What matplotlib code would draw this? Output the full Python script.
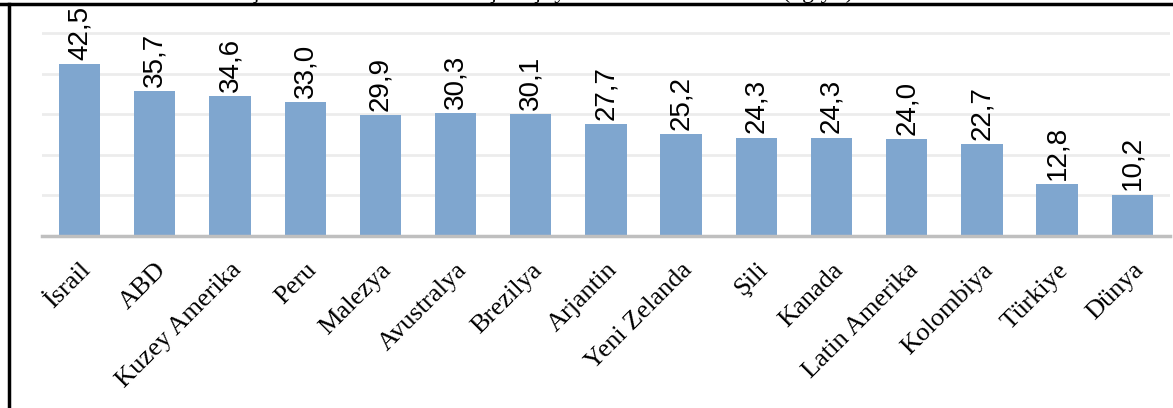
import matplotlib.pyplot as plt
from matplotlib.lines import Line2D

# veriler
ulkeler = ['İsrail', 'ABD', 'Kuzey Amerika', 'Peru', 'Malezya', 'Avustralya', 'Brezilya',
           'Arjantin', 'Yeni Zelanda', 'Şili', 'Kanada', 'Latin Amerika', 'Kolombiya',
           'Türkiye', 'Dünya']
degerler = [42.5, 35.7, 34.6, 33.0, 29.9, 30.3, 30.1, 27.7, 25.2, 24.3, 24.3, 24.0, 22.7, 12.8, 10.2]
etiketler = ['42,5', '35,7', '34,6', '33,0', '29,9', '30,3', '30,1', '27,7', '25,2', '24,3',
             '24,3', '24,0', '22,7', '12,8', '10,2']
baslik = 'Şekil 1. Bazı ülkelerde kişi başı yıllık tavuk eti tüketimi (kg/yıl)'

fig = plt.figure(figsize=(11.73, 4.08), dpi=100)
ax = fig.add_axes([0.0358, 0.4216, 0.9616, 0.566])

x = range(len(ulkeler))
ax.bar(x, degerler, width=0.55, color='#7fa6cf', zorder=2)

# bar ustu degerler (dikey)
for i, (v, t) in enumerate(zip(degerler, etiketler)):
    ax.annotate(t, (i, v), xytext=(0, 3), textcoords='offset points',
                rotation=90, ha='center', va='bottom',
                fontsize=20, family='Liberation Sans', color='black')

ax.set_xlim(-0.5, len(ulkeler) - 0.5)
ax.set_ylim(0, 57)
ax.set_yticks([10, 20, 30, 40, 50])
ax.yaxis.grid(True, color='#ececec', linewidth=2, zorder=0)
ax.tick_params(left=False, labelleft=False, bottom=False)

for s in ['top', 'right', 'left']:
    ax.spines[s].set_visible(False)
ax.spines['bottom'].set_color('#bfbfbf')
ax.spines['bottom'].set_linewidth(2.5)
ax.spines['bottom'].set_zorder(3)

ax.set_xticks(list(x))
ax.set_xticklabels(ulkeler, rotation=45, ha='right', va='top', rotation_mode='anchor',
                   fontsize=19, family='Liberation Serif')
ax.tick_params(axis='x', pad=13)

# cerceve cizgileri
fig.add_artist(Line2D([0, 1], [0.9905, 0.9905], color='black', linewidth=2.5,
                      transform=fig.transFigure))
fig.add_artist(Line2D([0.0077, 0.0077], [0, 0.9905], color='black', linewidth=2.5,
                      transform=fig.transFigure))

# kesilmis baslik (referansta da ustten kesik)
fig.text(0.47, 1.005, baslik, ha='center', va='baseline', fontsize=17,
         family='Liberation Serif')

fig.savefig('out.png', dpi=100)
